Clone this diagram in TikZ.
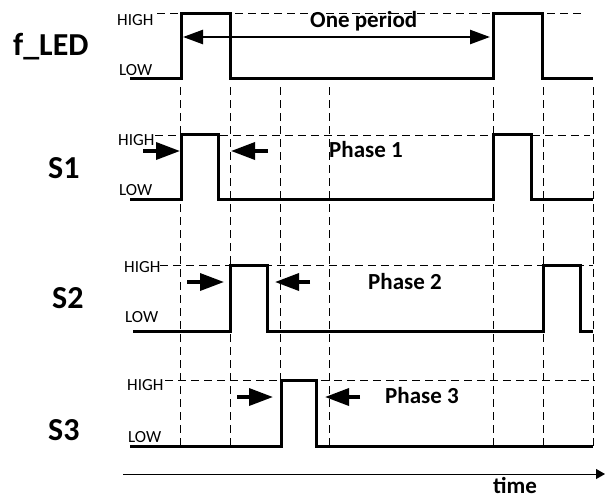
\documentclass[tikz,border=0pt]{standalone}
\usepackage{fontspec}
\setmainfont{Carlito}
\usetikzlibrary{arrows.meta}

\begin{document}
\begin{tikzpicture}[x=1pt,y=-1pt]
            \tikzstyle{wave}=[line width=3pt, line join=miter]
            \tikzstyle{grid}=[line width=0.8pt, dash pattern=on 8pt off 5pt]
            \tikzstyle{level}=[font=\fontsize{17}{17}\selectfont, inner sep=0pt, anchor=base west]
            \tikzstyle{signal}=[font=\fontsize{32}{34}\selectfont\bfseries, inner sep=0pt, anchor=base west]
            \tikzstyle{phase}=[font=\fontsize{23}{25}\selectfont\bfseries, inner sep=0pt, anchor=base west]
            \tikzstyle{pointer}=[line width=3.5pt, -{Triangle[length=24pt,width=17pt]}]
            \useasboundingbox (0,0) rectangle (605,499);

            \node[signal] (led) at (13,55) {f\_LED};
            \node[signal] (s1) at (48,178) {S1};
            \node[signal] (s2) at (52,308) {S2};
            \node[signal] (s3) at (48,440) {S3};

            \node[level] (ledhigh) at (117,25) {HIGH};
            \node[level] (ledlow) at (119,75) {LOW};
            \node[level] (s1high) at (118,145) {HIGH};
            \node[level] (s1low) at (119,195) {LOW};
            \node[level] (s2high) at (124,272) {HIGH};
            \node[level] (s2low) at (125,322) {LOW};
            \node[level] (s3high) at (127,390) {HIGH};
            \node[level] (s3low) at (128,442) {LOW};

            \draw[grid] (157,13) -- (582,13);
            \draw[grid] (155,135) -- (590,135);
            \draw[grid] (160,265) -- (593,265);
            \draw[grid] (165,380) -- (595,380);

            \draw[grid] (180,87) -- (180,446);
            \draw[grid] (230,87) -- (230,446);
            \draw[grid] (280,87) -- (280,446);
            \draw[grid] (329,87) -- (329,446);
            \draw[grid] (493,87) -- (493,446);
            \draw[grid] (543,87) -- (543,446);
            \draw[grid] (593,87) -- (593,446);

            \draw[wave] (130,78) -- (181,78) -- (181,13) -- (230,13) -- (230,78) -- (493,78) -- (493,13) -- (542,13) -- (542,78) -- (593,78);
            \draw[wave] (130,199) -- (181,199) -- (181,134) -- (218,134) -- (218,199) -- (493,199) -- (493,134) -- (531,134) -- (531,199) -- (593,199);
            \draw[wave] (133,331) -- (230,331) -- (230,265) -- (267,265) -- (267,331) -- (543,331) -- (543,265) -- (580,265) -- (580,331) -- (593,331);
            \draw[wave] (130,446) -- (281,446) -- (281,380) -- (316,380) -- (316,446) -- (593,446);

            \coordinate (periodstart) at (183,37);
            \coordinate (periodend) at (490,37);
            \draw[line width=2.5pt, {Triangle[length=20pt,width=14pt]}-{Triangle[length=20pt,width=14pt]}] (periodstart) -- (periodend);
            \node[phase] (period) at (310,27) {One period};

            \coordinate (p1a) at (143,151);
            \coordinate (p1b) at (180,151);
            \coordinate (p1c) at (268,151);
            \coordinate (p1d) at (231,151);
            \draw[pointer] (p1a) -- (p1b);
            \draw[pointer] (p1c) -- (p1d);
            \node[phase] (phase1) at (329,157) {Phase 1};

            \coordinate (p2a) at (187,282);
            \coordinate (p2b) at (224,282);
            \coordinate (p2c) at (310,282);
            \coordinate (p2d) at (275,282);
            \draw[pointer] (p2a) -- (p2b);
            \draw[pointer] (p2c) -- (p2d);
            \node[phase] (phase2) at (368,289) {Phase 2};

            \coordinate (p3a) at (237,397);
            \coordinate (p3b) at (273,397);
            \coordinate (p3c) at (360,397);
            \coordinate (p3d) at (325,397);
            \draw[pointer] (p3a) -- (p3b);
            \draw[pointer] (p3c) -- (p3d);
            \node[phase] (phase3) at (385,403) {Phase 3};

            \coordinate (timestart) at (123,474);
            \coordinate (timeend) at (605,474);
            \draw[line width=1pt, -{Triangle[length=9pt,width=10pt]}] (timestart) -- (timeend);
            \node[phase] (time) at (493,493) {time};
        \end{tikzpicture}
\end{document}
